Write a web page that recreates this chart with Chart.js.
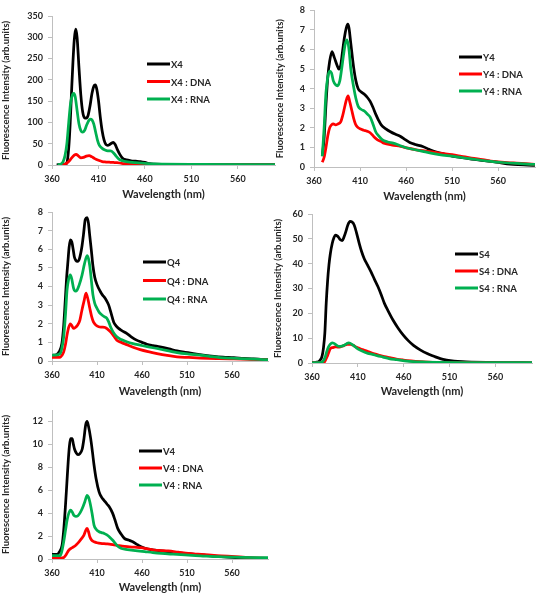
<!DOCTYPE html>
<html lang="en">
<head>
    <meta charset="UTF-8">
    <title>Fluorescence spectra</title>
    <style>
        html, body { margin: 0; padding: 0; background: #fff; }
        #page { position: relative; width: 541px; height: 600px; overflow: hidden; }
        .panel { position: absolute; }
    </style>
</head>
<body>
<div id="page">
    <div class="panel" style="left:0px;top:0px;width:280px;height:201px"><canvas id="c1"></canvas></div>
    <div class="panel" style="left:270px;top:0px;width:271px;height:203px"><canvas id="c2"></canvas></div>
    <div class="panel" style="left:0px;top:200px;width:280px;height:198px"><canvas id="c3"></canvas></div>
    <div class="panel" style="left:270px;top:200px;width:271px;height:198px"><canvas id="c4"></canvas></div>
    <div class="panel" style="left:0px;top:395px;width:280px;height:199px"><canvas id="c5"></canvas></div>
</div>

<script src="https://cdn.jsdelivr.net/npm/chart.js"></script>
<script>
    // Ticks
    const xTicks = [360, 410, 460, 510, 560];
    const x4YTicks = [0, 50, 100, 150, 200, 250, 300, 350];
    const y4YTicks = [0, 1, 2, 3, 4, 5, 6, 7, 8];
    const q4YTicks = [0, 1, 2, 3, 4, 5, 6, 7, 8];
    const s4YTicks = [0, 10, 20, 30, 40, 50, 60];
    const v4YTicks = [0, 2, 4, 6, 8, 10, 12];

    // Series: [wavelength nm, intensity]
    const X4_free = [[365,0.5],[370,1],[374,2],[376,5],[378,40],[379.5,95],[381,170],[382.5,240],[384,295],[385.5,319],[387,300],[389,230],[391,165],[393,125],[395,111],[397,110],[399,118],[401,140],[403,168],[405,185],[406.5,188],[408,180],[410,152],[412,112],[414,80],[416,59],[418,48],[420,46],[422,48],[424,51],[426,53],[428,48],[430,38],[433,25],[436,16],[440,12],[445,10],[450,9],[455,8],[460,6],[465,3],[470,2],[480,1.5],[500,1.2],[550,1],[600,0.8]];
    const X4_dna = [[368,0.5],[372,1],[375,3],[378,8],[381,16],[384,23],[386,25],[388,22],[391,17],[394,18],[397,21],[400,22],[403,19],[406,15],[410,11],[414,8],[418,7],[422,6.5],[426,6],[430,5.5],[435,4],[440,3],[445,2],[450,1.5],[460,1],[480,0.8],[600,0.5]];
    const X4_rna = [[366,0.5],[368,1],[370,3],[372,8],[374,22],[376,50],[378,100],[380,145],[382,165],[383.5,168],[385,160],[387,128],[389,97],[391,81],[393,77],[395,81],[397,92],[399,102],[401,108],[403,106],[405,96],[407,77],[409,58],[411,46],[414,39],[417,35],[420,33],[423,33],[426,29],[429,21],[432,14],[436,10],[440,8],[450,5.5],[460,4],[470,2.5],[480,2],[520,1.5],[600,1]];

    const Y4_free = [[369,0.55],[371,1.5],[373,3.2],[375,4.6],[377,5.4],[379.5,5.9],[382,5.6],[385,5.2],[387,5.0],[389,5.2],[391,5.9],[393,6.6],[395,7.1],[396.7,7.3],[398,7.1],[400,6.3],[403,5.1],[405.5,4.4],[408,4.0],[411,3.85],[415,3.7],[418,3.55],[421,3.35],[424,3.05],[427,2.7],[430,2.4],[433,2.15],[438,1.95],[443,1.8],[448,1.68],[454,1.56],[459,1.4],[464,1.25],[470,1.15],[478,1.05],[485,0.9],[492,0.77],[500,0.68],[510,0.56],[520,0.48],[531,0.4],[540,0.35],[552,0.29],[562,0.22],[573,0.15],[582,0.12],[592,0.1],[600,0.08]];
    const Y4_dna = [[369,0.24],[371,0.5],[373,1.0],[375,1.6],[377,2.0],[379,2.15],[381,2.2],[383.5,2.15],[386,2.2],[389,2.3],[391,2.6],[393,3.0],[395,3.4],[397,3.63],[399,3.3],[401,2.9],[403,2.5],[405,2.2],[407,2.05],[410,1.95],[414,1.88],[418,1.82],[421,1.75],[425,1.55],[429,1.39],[433,1.3],[436,1.22],[445,1.12],[454,1.05],[462,0.96],[471,0.88],[484,0.8],[496,0.71],[510,0.63],[520,0.55],[531,0.46],[543,0.38],[555,0.29],[570,0.23],[580,0.2],[590,0.17],[600,0.14]];
    const Y4_rna = [[369,0.55],[371,2],[373,3.8],[375,4.6],[377,4.9],[379,4.8],[381,4.4],[383.5,4.2],[385.5,4.15],[388,4.4],[390,5.0],[392,5.7],[394,6.3],[396,6.5],[398,6.0],[400,5.0],[403,4.1],[405.5,3.5],[408,3.1],[411,2.95],[415,2.85],[418,2.7],[421,2.55],[424,2.2],[427,1.8],[430,1.6],[434,1.4],[440,1.28],[446,1.22],[453,1.1],[461,0.97],[470,0.88],[478,0.8],[487,0.71],[496,0.63],[510,0.55],[524,0.46],[538,0.37],[552,0.29],[565,0.23],[580,0.18],[592,0.15],[600,0.13]];

    const Q4_free = [[360,0.3],[365.5,0.36],[368,0.5],[371,0.94],[373,1.9],[374.8,3.3],[376.3,4.5],[377.8,5.4],[379,6.1],[380.4,6.5],[382,6.4],[383.5,6.0],[384.8,5.6],[386.5,5.4],[388.5,5.35],[390.5,5.5],[393.3,6.16],[395,6.8],[397,7.6],[399,7.7],[400.5,7.4],[402,6.7],[403.8,5.9],[405.5,5.1],[407.5,4.5],[410,4.1],[413.7,3.73],[416,3.55],[419,3.37],[421,3.2],[423,3.0],[425.5,2.6],[428.5,2.1],[431,1.9],[434,1.75],[438,1.62],[443,1.48],[448,1.3],[454,1.12],[460,1.0],[465.5,0.9],[472,0.83],[480,0.76],[490,0.65],[499,0.54],[508,0.47],[517,0.4],[528,0.32],[540,0.25],[550,0.21],[562,0.18],[573,0.14],[584,0.11],[592,0.09],[600,0.07]];
    const Q4_dna = [[360,0.2],[365,0.2],[369,0.2],[371,0.3],[373,0.49],[375,0.9],[376.7,1.39],[378.5,1.8],[380.4,2.0],[382,1.9],[384,1.75],[386,1.8],[388.5,1.93],[391,2.2],[393.3,2.74],[395.5,3.2],[397.8,3.64],[400,3.3],[402,2.83],[404,2.4],[406,2.1],[409,1.92],[412,1.84],[415.5,1.82],[419,1.8],[422,1.7],[425,1.57],[428.5,1.35],[432,1.12],[437,1.0],[443,0.88],[450,0.74],[458,0.61],[467,0.5],[476.7,0.4],[488,0.3],[499,0.22],[512,0.19],[525,0.16],[545,0.13],[562,0.11],[580,0.09],[600,0.07]];
    const Q4_rna = [[360,0.3],[365,0.33],[369,0.4],[371,0.7],[373,1.3],[375,2.5],[376.7,3.8],[378.5,4.4],[380.4,4.63],[382,4.4],[384,3.9],[386,3.75],[387.8,3.8],[390,4.05],[393.3,4.6],[396,5.2],[399,5.66],[400.5,5.5],[402,5.1],[403.8,4.3],[405.5,3.55],[407.5,3.1],[410,2.83],[412.7,2.6],[415.5,2.47],[418,2.38],[421,2.29],[423,2.1],[425,1.84],[428,1.55],[432,1.3],[437,1.15],[443,1.03],[450,0.93],[458,0.85],[467,0.76],[476.7,0.67],[488,0.56],[499,0.45],[512,0.37],[525,0.31],[536,0.24],[547,0.18],[558,0.15],[569,0.13],[585,0.1],[600,0.07]];

    const S4_free = [[360,0.1],[364,0.3],[367,0.5],[369,1.2],[371,2.8],[372.5,6],[374,12],[375.5,24],[377,33],[378.5,39.5],[380,44],[382,48],[384,50.5],[385.6,51.5],[387.5,51.2],[389,50.6],[391,49.6],[393,49.3],[395,50.8],[397,53],[399,55.5],[401.5,57],[403.5,56.8],[406,55.6],[408.5,52.5],[411.5,48.2],[414,45],[417,42],[420.5,39.5],[424.4,36.7],[428,33.8],[432,30.7],[435.5,27.5],[439,24],[443,21],[448.5,17.2],[454,14],[459.6,11.2],[465,9],[470.7,7.1],[478,5.3],[485.6,3.8],[493,2.7],[500,1.75],[507,1.2],[515,0.8],[524,0.55],[533.7,0.4],[550,0.25],[570,0.13],[600,0.1]];
    const S4_dna = [[360,0],[368,0.05],[372.6,0.1],[374.5,1],[376.3,2.4],[378,4],[380,5.8],[382.5,6.2],[385.6,6.5],[388,6.4],[391,6.5],[394.8,7],[398.5,7.5],[402,7.5],[405,7.1],[407.8,6.5],[411,6],[415,5.4],[419,4.9],[422.6,4.4],[428,3.7],[433.7,3.1],[439,2.6],[444.8,2.15],[452,1.6],[459.6,1.2],[468,0.85],[478,0.55],[487,0.38],[496.7,0.27],[515,0.18],[533.7,0.13],[570,0.08],[600,0.05]];
    const S4_rna = [[360,0.1],[367,0.15],[370.7,0.27],[372.5,1],[374.4,2.4],[376,4.5],[378,6.5],[380,7.6],[382,8.1],[384,7.9],[385.6,7.5],[387.5,7],[389,6.7],[391,6.7],[394.8,7.1],[397.5,7.7],[400,8.1],[402,7.9],[404,7.4],[406.5,6.7],[409.6,5.8],[413,5.1],[417,4.4],[421,3.9],[426,3.5],[431,2.95],[437.4,2.4],[444,1.8],[452,1.35],[461,0.9],[470.7,0.55],[484,0.38],[496.7,0.27],[530,0.18],[600,0.13]];

    const V4_free = [[360,0.4],[365.6,0.4],[368,0.6],[371.2,1.2],[373,2.5],[375,4.7],[376.5,6.6],[378,8.5],[379.3,9.8],[380.6,10.5],[382.4,10.5],[383.8,10.0],[385,9.6],[387,9.25],[388.8,9.1],[391,9.2],[393.6,9.6],[395.5,10.5],[397.4,11.7],[399,12.0],[400.5,11.6],[403,10.5],[405,9.3],[406.7,8.2],[409,7],[412.3,5.85],[415,5.4],[418,5.1],[421,4.8],[423.6,4.55],[427.3,4.0],[430,3.4],[433,2.67],[436.5,2.2],[440.4,1.8],[445,1.65],[449.7,1.5],[455,1.25],[459,1.07],[466.5,0.87],[474,0.78],[481.5,0.7],[496.4,0.55],[508,0.48],[519,0.4],[530,0.33],[541,0.26],[552,0.19],[563.7,0.12],[575,0.09],[586,0.06],[600,0.06]];
    const V4_dna = [[360,0.06],[368,0.08],[373,0.12],[375.5,0.35],[378.7,0.78],[381.5,0.95],[384.3,1.07],[387,1.25],[390,1.5],[393,1.8],[395.5,2.09],[397.5,2.5],[399,2.67],[400.5,2.4],[402,1.94],[404,1.65],[406.7,1.5],[410,1.42],[414,1.36],[420,1.32],[425.4,1.28],[432,1.2],[438,1.12],[444,1.07],[452,1.03],[459,0.99],[466,0.88],[474,0.78],[481,0.74],[489,0.7],[500,0.6],[511.4,0.49],[522,0.42],[534,0.35],[548,0.28],[563.7,0.2],[580,0.12],[600,0.06]];
    const V4_rna = [[360,0.3],[369.3,0.3],[371,0.7],[373,1.5],[375,2.5],[376.8,3.4],[378.7,4.0],[380.6,4.26],[382.5,4.1],[384.3,3.8],[386.5,3.72],[388.8,3.77],[391,4.0],[393.6,4.4],[396.5,5.0],[399,5.56],[400.5,5.4],[402,5.0],[404.5,4.0],[406.7,2.96],[409,2.6],[412.3,2.38],[415,2.3],[418,2.23],[421,2.1],[423.6,1.94],[426,1.75],[429,1.5],[432.5,1.15],[436.6,0.93],[442,0.84],[448,0.78],[455,0.71],[463,0.64],[472,0.56],[481.5,0.49],[494,0.42],[507.7,0.35],[525,0.28],[545,0.2],[570,0.15],[600,0.12]];

    // Colours and fonts
    const colors = ['#000000', '#ff0000', '#00b050'];
    const textColor = '#262626';
    const axisColor = '#bfbfbf';
    const fontFamily = 'Lato, "DejaVu Sans", sans-serif';

    // Legend drawn inside the plot at a fixed spot
    const insideLegend = {
        id: 'insideLegend',
        afterDraw(chart, args, opts) {
            const ctx = chart.ctx;
            ctx.save();
            ctx.font = 'bold 9.5px ' + fontFamily;
            ctx.textBaseline = 'middle';
            chart.data.datasets.forEach((ds, i) => {
                const y = opts.y + i * opts.dy;
                ctx.strokeStyle = ds.borderColor;
                ctx.lineWidth = 3;
                ctx.beginPath();
                ctx.moveTo(opts.x, y);
                ctx.lineTo(opts.x + 23, y);
                ctx.stroke();
                ctx.fillStyle = textColor;
                ctx.fillText(ds.label, opts.x + 24, y + 1);
            });
            ctx.restore();
        }
    };

    // Panel layout (page pixels): box = container, area = plot area
    const panels = [
        { id: 'c1', box: [0, 0, 280, 201], area: [52, 275, 16, 165], yMax: 350, yTicks: x4YTicks, titlePad: 6, legend: [147, 64, 17.5],
          names: ['X4', 'X4 : DNA', 'X4 : RNA'], series: [X4_free, X4_dna, X4_rna] },
        { id: 'c2', box: [270, 0, 271, 203], area: [314, 535, 10, 167], yMax: 8, yTicks: y4YTicks, titlePad: 10, legend: [459, 57, 17],
          names: ['Y4', 'Y4 : DNA', 'Y4 : RNA'], series: [Y4_free, Y4_dna, Y4_rna] },
        { id: 'c3', box: [0, 200, 280, 198], area: [52, 268, 212, 361], yMax: 8, yTicks: q4YTicks, titlePad: 6, legend: [143, 262, 18.5],
          names: ['Q4', 'Q4 : DNA', 'Q4 : RNA'], series: [Q4_free, Q4_dna, Q4_rna] },
        { id: 'c4', box: [270, 200, 271, 198], area: [312, 532, 214, 363], yMax: 60, yTicks: s4YTicks, titlePad: 8, legend: [455, 254, 17],
          names: ['S4', 'S4 : DNA', 'S4 : RNA'], series: [S4_free, S4_dna, S4_rna] },
        { id: 'c5', box: [0, 395, 280, 199], area: [52, 268, 410, 559], yMax: 13, yTicks: v4YTicks, titlePad: 6, legend: [139, 451, 17],
          names: ['V4', 'V4 : DNA', 'V4 : RNA'], series: [V4_free, V4_dna, V4_rna] }
    ];

    panels.forEach(p => {
        const [bx, by, bw, bh] = p.box;
        const [l, r, t, b] = p.area;
        const tickFont = { family: fontFamily, size: 9, weight: 'bold' };
        const yTitleFont = { family: fontFamily, size: 9.5, weight: 'bold' };
        const xTitleFont = { family: fontFamily, size: 11, weight: 'bold' };

        new Chart(document.getElementById(p.id), {
            type: 'line',
            data: {
                datasets: p.series.map((s, i) => ({
                    label: p.names[i],
                    data: s,
                    borderColor: colors[i],
                    backgroundColor: colors[i],
                    borderWidth: 2.75,
                    pointRadius: 0,
                    cubicInterpolationMode: 'monotone',
                    order: 2 - i
                }))
            },
            options: {
                responsive: true,
                maintainAspectRatio: false,
                animation: false,
                layout: { padding: { top: t - by, right: bx + bw - r, left: 0, bottom: 0 } },
                plugins: {
                    legend: { display: false },
                    tooltip: { enabled: false },
                    insideLegend: { x: p.legend[0] - bx, y: p.legend[1] - by, dy: p.legend[2] }
                },
                scales: {
                    x: {
                        type: 'linear',
                        min: 360,
                        max: 600,
                        afterBuildTicks: s => { s.ticks = xTicks.map(v => ({ value: v })); },
                        afterFit: s => { s.height = by + bh - b; },
                        grid: { drawOnChartArea: false, drawTicks: true, tickLength: 4, color: axisColor },
                        border: { color: axisColor },
                        ticks: { font: tickFont, color: textColor, padding: 5, maxRotation: 0, autoSkip: false },
                        title: { display: true, text: 'Wavelength (nm)', font: xTitleFont, color: textColor, padding: { top: 0, bottom: 0 } }
                    },
                    y: {
                        min: 0,
                        max: p.yMax,
                        afterBuildTicks: s => { s.ticks = p.yTicks.map(v => ({ value: v })); },
                        afterFit: s => { s.width = l - bx; },
                        grid: { drawOnChartArea: false, drawTicks: true, tickLength: 4, color: axisColor },
                        border: { color: axisColor },
                        ticks: { font: tickFont, color: textColor, padding: 5, autoSkip: false },
                        title: { display: true, text: 'Fluorescence Intensity (arb.units)', font: yTitleFont, color: textColor, padding: { top: p.titlePad - 6, bottom: 0 } }
                    }
                }
            },
            plugins: [insideLegend]
        });
    });
</script>
</body>
</html>
